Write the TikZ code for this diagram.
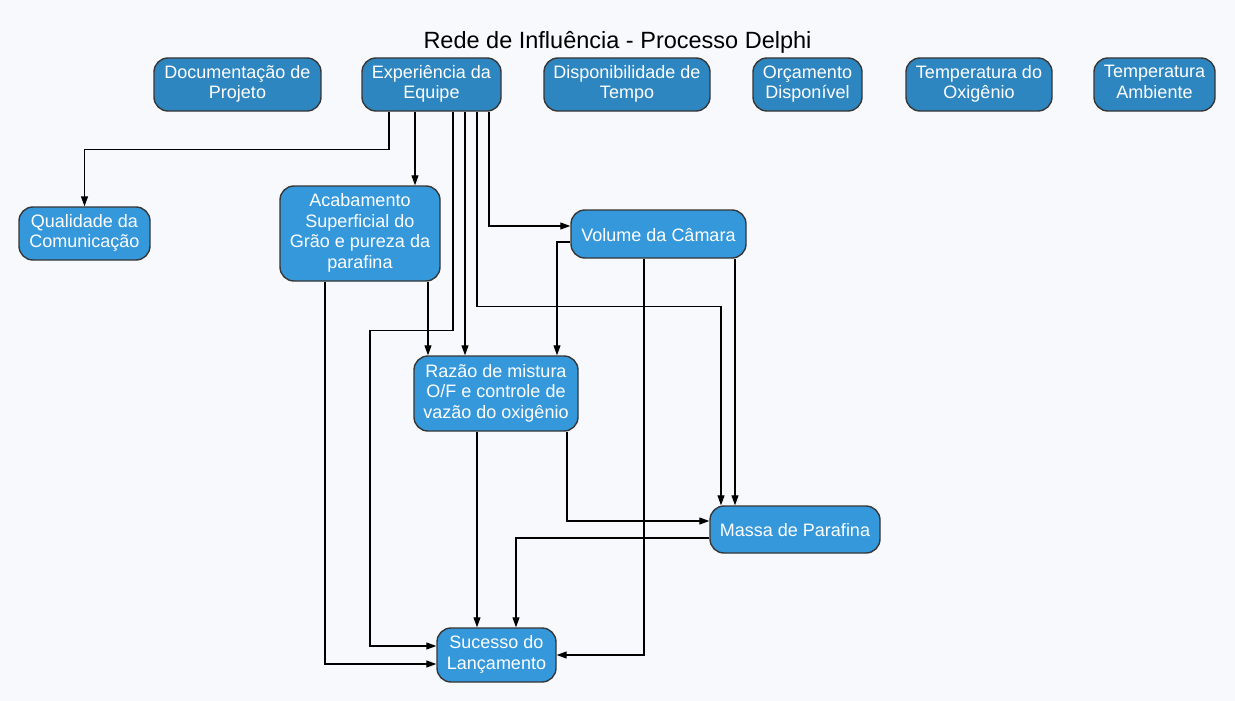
\documentclass[tikz,border=0pt]{standalone}
\usepackage{fontspec}
\setmainfont{Liberation Sans}
\usetikzlibrary{arrows.meta}
\definecolor{bg}{RGB}{248,249,252}
\definecolor{topfill}{RGB}{46,134,193}
\definecolor{midfill}{RGB}{52,152,219}
\definecolor{bordc}{RGB}{55,55,55}
\newcommand{\topstrut}{\rule{0pt}{19.6pt}}
\newcommand{\botstrut}{\rule[-5pt]{0pt}{5pt}}
\tikzset{
  box/.style={draw=bordc, line width=1.4pt, rounded corners=14pt, text=white, align=center,
    font=\fontsize{18}{20.5}\selectfont, inner sep=0pt,
    execute at begin node={\topstrut}, execute at end node={\botstrut}},
  topbox/.style={box, fill=topfill},
  midbox/.style={box, fill=midfill},
  arr/.style={draw=black, line width=1.1pt, -{Triangle[length=10pt,width=7pt]}},
  titlestyle/.style={font=\fontsize{23.5}{26}\selectfont, text=black, inner sep=0pt}
}
\begin{document}
\begin{tikzpicture}[x=1pt,y=-1pt]
\fill[bg] (0,0) rectangle (1235,701);
\useasboundingbox (0,0) rectangle (1235,701);

\node[titlestyle, anchor=base] (title) at (617.5,48.5) {Rede de Influência - Processo Delphi};

% top row
\node[topbox, minimum width=167pt, minimum height=53pt] (doc) at (237.5,84.5) {Documentação de\\Projeto};
\node[topbox, minimum width=139pt, minimum height=53pt] (exp) at (431.5,84.5) {Experiência da\\Equipe};
\node[topbox, minimum width=166pt, minimum height=53pt] (disp) at (627,84.5) {Disponibilidade de\\Tempo};
\node[topbox, minimum width=109pt, minimum height=53pt] (orc) at (807.5,84.5) {Orçamento\\Disponível};
\node[topbox, minimum width=146pt, minimum height=53pt] (tox) at (979,84.5) {Temperatura do\\Oxigênio};
\node[topbox, minimum width=121pt, minimum height=53pt] (tamb) at (1154.5,84.5) {Temperatura\\Ambiente};

% other nodes
\node[midbox, minimum width=131pt, minimum height=53pt] (qual) at (84.5,233.5) {Qualidade da\\Comunicação};
\node[midbox, minimum width=160pt, minimum height=95pt] (acab) at (360,233.5) {Acabamento\\Superficial do\\Grão e pureza da\\parafina};
\node[midbox, minimum width=175pt, minimum height=48pt] (vol) at (658.5,234) {Volume da Câmara};
\node[midbox, minimum width=164pt, minimum height=75pt] (raz) at (496,393.5) {Razão de mistura\\O/F e controle de\\vazão do oxigênio};
\node[midbox, minimum width=170pt, minimum height=47pt] (massa) at (795,529.5) {Massa de Parafina};
\node[midbox, minimum width=119pt, minimum height=54pt] (suc) at (496.5,655) {Sucesso do\\Lançamento};

% lanes
\coordinate (e1) at ([xshift=-42.5pt]exp.south);
\coordinate (e2) at ([xshift=-16.5pt]exp.south);
\coordinate (e3) at ([xshift=21.5pt]exp.south);
\coordinate (e4) at ([xshift=33.5pt]exp.south);
\coordinate (e5) at ([xshift=45.5pt]exp.south);
\coordinate (e6) at ([xshift=57.5pt]exp.south);
\coordinate (a1) at ([xshift=68pt]acab.south);
\coordinate (a2) at ([xshift=-35pt]acab.south);
\coordinate (v1) at ([xshift=-14.5pt]vol.south);
\coordinate (v2) at ([xshift=76.5pt]vol.south);
\coordinate (r1) at ([xshift=-19pt]raz.south);
\coordinate (r2) at ([xshift=71pt]raz.south);

\draw[arr] (e1) -- ++(0,38) -| (qual.north);
\draw[arr] (e2) -- (e2 |- acab.north);
\draw[arr] (e3) -- ++(0,219) -- ++(-83,0) |- ([yshift=9pt]suc.west);
\draw[arr] (e4) -- (e4 |- raz.north);
\draw[arr] (e5) -- ++(0,195) -| ([xshift=-74pt]massa.north);
\draw[arr] (e6) |- ([yshift=8pt]vol.west);

\draw[arr] (a1) -- (a1 |- raz.north);
\draw[arr] (a2) |- ([yshift=-9pt]suc.west);

\draw[arr] ([yshift=-8pt]vol.west) -| ([xshift=61pt]raz.north);
\draw[arr] (v1) |- (suc.east);
\draw[arr] (v2) -- (v2 |- massa.north);

\draw[arr] (r1) -- (r1 |- suc.north);
\draw[arr] (r2) |- ([yshift=8.5pt]massa.west);

\draw[arr] ([yshift=-8.5pt]massa.west) -| ([xshift=19.5pt]suc.north);
\end{tikzpicture}
\end{document}
